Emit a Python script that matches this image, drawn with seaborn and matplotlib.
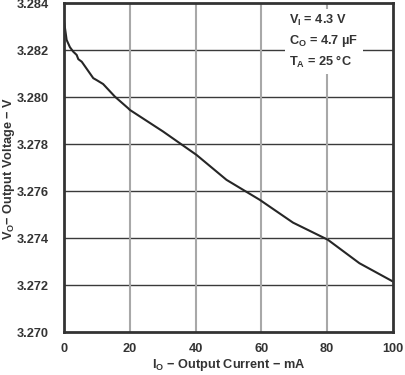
import numpy as np
import pandas as pd
import matplotlib
matplotlib.use('Agg')
import matplotlib.pyplot as plt
import seaborn as sns

# values
current_ma = [0.0, 0.8, 1.8, 2.8, 3.85, 4.35, 5.4, 8.9, 9.9, 11.9, 15.5, 19.5,
              20.0, 30.1, 40.3, 49.4, 59.5, 69.6, 80.2, 89.8, 100.0]
voltage_v = [3.28326, 3.28245, 3.28214, 3.28195, 3.28181, 3.28163, 3.28152,
             3.28082, 3.28074, 3.28057, 3.28003, 3.27954,
             3.27947, 3.27855, 3.27755, 3.27649, 3.27564, 3.27467, 3.27394,
             3.27294, 3.27216]
x_ticks = [0, 20, 40, 60, 80, 100]
y_ticks = [3.270, 3.272, 3.274, 3.276, 3.278, 3.280, 3.282, 3.284]

sns.set_style('white')
plt.rcParams['font.family'] = ['Liberation Sans', 'DejaVu Sans']
plt.rcParams['mathtext.fontset'] = 'custom'
plt.rcParams['mathtext.rm'] = 'Liberation Sans:bold'

FS = 9.2
TXT = '#333333'

df = pd.DataFrame({'current': current_ma, 'voltage': voltage_v})

fig = plt.figure(figsize=(4.06, 3.75), dpi=100)
ax = fig.add_axes([0.1576, 0.1139, 0.8104, 0.8768])

sns.lineplot(data=df, x='current', y='voltage', ax=ax, color='#262626', linewidth=1.5)

ax.set_xlim(0, 100)
ax.set_ylim(3.270, 3.284)
ax.set_xticks(x_ticks)
ax.set_yticks(y_ticks)
ax.set_xticklabels([str(t) for t in x_ticks], fontsize=FS, fontweight='bold', color=TXT)
ax.set_yticklabels([f'{t:.3f}' for t in y_ticks], fontsize=FS, fontweight='bold', color=TXT)
ax.tick_params(axis='both', length=0)
ax.tick_params(axis='x', pad=8)
ax.tick_params(axis='y', pad=11)

# horizontal grid darker than vertical grid
for y in y_ticks[1:-1]:
    ax.axhline(y, color='#3a3a3a', linewidth=1.0, zorder=0)
for x in x_ticks[1:-1]:
    ax.axvline(x, color='#a8a8a8', linewidth=1.5, zorder=0)

for sp in ax.spines.values():
    sp.set_color('#333333')
    sp.set_linewidth(2.0)

ax.set_xlabel(r'I$_\mathregular{O}$ − Output Current − mA', fontsize=FS,
              fontweight='bold', color=TXT, labelpad=1)
ax.set_ylabel(r'V$_\mathregular{O}$− Output Voltage − V', fontsize=FS,
              fontweight='bold', color=TXT)
ax.yaxis.set_label_coords(-0.143, 0.5)

conds = (r'V$_\mathregular{I}$ = 4.3 V' + '\n' +
         r'C$_\mathregular{O}$ = 4.7 µF' + '\n' +
         r'T$_\mathregular{A}$ = 25 °C')
ax.text(0.685, 0.97, conds, transform=ax.transAxes, fontsize=FS, fontweight='bold',
        color=TXT, va='top', ha='left', linespacing=1.4,
        bbox=dict(facecolor='white', edgecolor='none', pad=3))

fig.savefig('out.png', dpi=100)
